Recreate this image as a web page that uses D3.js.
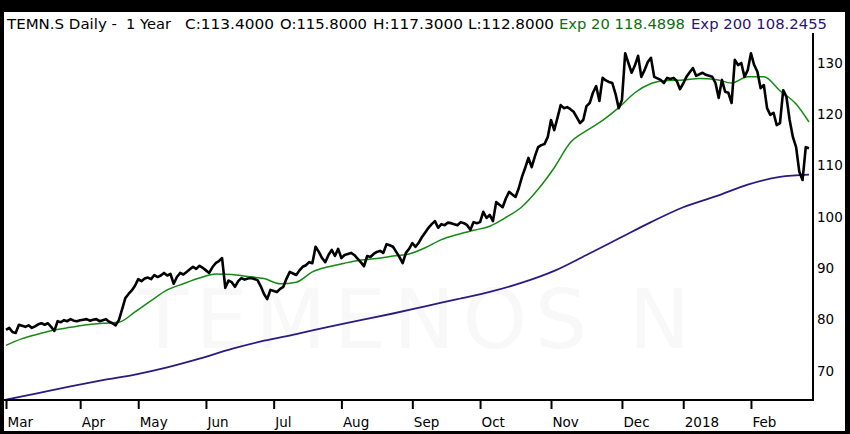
<!DOCTYPE html>
<html>
<head>
<meta charset="utf-8">
<script src="https://cdn.jsdelivr.net/npm/d3@7"></script>
<style>
  body { margin: 0; background: #fff; }
  text { font-family: "DejaVu Sans", "Liberation Sans", sans-serif; }
</style>
</head>
<body>
<div id="chart"></div>
<script>
// ---------------------------------------------------------------
// Data
// ---------------------------------------------------------------

// exchange closed on these weekdays
var firstDay = "2017-03-01";
var holidays = ["2017-04-14", "2017-04-17", "2017-05-01", "2017-05-25", "2017-06-05",
                "2017-08-01", "2017-12-25", "2017-12-26", "2018-01-01", "2018-01-02"];

// daily closes, month by month
var closeMar = [78.0, 78.4, 77.6, 77.4, 79.0, 78.8, 78.6, 78.9, 78.4, 78.7, 79.1, 79.3, 79.0, 79.3, 78.6, 77.8, 79.7, 79.5, 79.9, 79.7, 80.1, 79.8, 79.7];
var closeApr = [79.9, 80.0, 80.1, 79.8, 80.0, 80.1, 79.7, 79.9, 80.1, 79.6, 79.3, 78.9, 79.9, 82.0, 84.2, 85.0, 85.7, 86.6];
var closeMay = [87.9, 87.5, 88.0, 88.2, 87.9, 88.7, 88.3, 88.6, 89.1, 88.6, 88.9, 87.0, 88.3, 89.1, 88.8, 89.3, 89.8, 90.3, 89.9, 90.5, 90.1];
var closeJun = [89.6, 89.1, 90.2, 91.0, 91.4, 92.0, 86.2, 87.6, 87.3, 86.4, 87.5, 88.1, 87.8, 88.0, 88.1, 87.9, 87.7, 86.5, 85.0, 84.0, 85.8];
var closeJul = [85.6, 85.4, 86.0, 86.4, 88.0, 89.3, 89.0, 88.7, 89.6, 90.3, 90.6, 91.2, 91.0, 94.2, 93.2, 92.0, 91.2, 92.6, 93.6, 92.4, 93.8];
var closeAug = [92.0, 92.6, 92.8, 93.0, 92.6, 91.9, 91.2, 90.4, 92.4, 92.2, 92.8, 93.2, 93.4, 93.0, 94.7, 94.5, 94.2, 93.2, 92.2, 91.0, 93.0, 93.8];
var closeSep = [94.9, 94.2, 95.0, 96.1, 97.0, 97.9, 98.6, 99.2, 97.9, 98.6, 98.4, 98.9, 98.8, 98.6, 98.4, 99.0, 98.8, 98.4, 97.5, 99.0, 98.8];
var closeOct = [99.0, 101.0, 99.8, 100.4, 99.2, 102.9, 102.4, 101.9, 103.6, 104.9, 104.4, 103.9, 105.6, 107.8, 109.6, 111.5, 109.7, 111.8, 113.6, 114.0, 114.2, 115.6];
var closeNov = [118.9, 116.9, 119.3, 121.8, 121.2, 121.4, 121.0, 120.5, 119.4, 118.3, 118.9, 121.6, 122.2, 124.2, 125.5, 122.6, 127.1, 126.6, 126.3, 126.1, 124.0, 121.2];
var closeDec = [122.8, 131.9, 130.0, 128.1, 129.5, 131.4, 127.3, 128.6, 130.2, 131.0, 127.3, 127.0, 126.7, 126.1, 127.1, 126.9, 127.1, 126.5, 124.9];
var closeJan = [126.0, 127.3, 128.2, 129.0, 127.5, 127.8, 128.1, 127.7, 127.5, 127.3, 126.1, 123.2, 126.7, 124.4, 124.2, 122.2, 130.6, 129.6, 130.0, 127.3, 128.6];
var closeFeb = [131.9, 129.6, 128.3, 125.1, 125.7, 121.2, 119.9, 120.3, 117.9, 118.3, 124.7, 123.4, 118.9, 115.6, 113.6, 108.8, 107.2, 113.6, 113.4];

var closes = [].concat(closeMar, closeApr, closeMay, closeJun, closeJul, closeAug,
                       closeSep, closeOct, closeNov, closeDec, closeJan, closeFeb);

// exponential averages, read at some trading days (day = index in closes)
var ema20Days = [0, 5, 10, 15, 20, 25, 30, 35, 40, 45, 50, 55, 60, 65, 70, 75, 80, 85, 90, 95,
                 100, 105, 110, 115, 120, 125, 130, 135, 140, 145, 150, 155, 160, 165, 170, 175,
                 180, 185, 190, 195, 200, 205, 210, 215, 220, 225, 230, 235, 240, 245, 249];
var ema20Vals = [75.0, 76.3, 77.2, 78.0, 78.5, 79.0, 79.3, 79.5, 81.5, 83.7, 85.8, 87.0, 88.1, 88.9, 88.8, 88.4, 88.0, 87.0, 87.3, 89.3,
                 90.3, 91.0, 91.6, 91.9, 92.4, 92.8, 94.0, 95.6, 96.6, 97.4, 98.2, 99.9, 102.0, 105.4, 109.6, 114.5,
                 116.8, 118.8, 121.3, 124.2, 126.0, 126.6, 126.7, 127.0, 126.8, 126.1, 127.3, 127.3, 124.6, 122.0, 118.5];

var ema200Days = [0, 10, 20, 30, 40, 50, 60, 70, 80, 90, 100, 110, 120, 130, 140, 150, 160, 170,
                  180, 190, 200, 210, 220, 230, 240, 249];
var ema200Vals = [64.4, 65.7, 67.0, 68.2, 69.3, 70.7, 72.4, 74.3, 75.9, 77.2, 78.6, 79.9, 81.2, 82.6, 84.0, 85.4, 87.2, 89.5,
                  92.6, 95.8, 99.0, 101.9, 104.0, 106.3, 107.8, 108.25];

// axis labels
var monthLabels = ["Mar", "Apr", "May", "Jun", "Jul", "Aug", "Sep", "Oct", "Nov", "Dec", "2018", "Feb"];
var priceTicks = [70, 80, 90, 100, 110, 120, 130];

// header line
var headerTexts = ["TEMN.S Daily -", "1 Year", "C:113.4000", "O:115.8000", "H:117.3000", "L:112.8000",
                   "Exp 20 118.4898", "Exp 200 108.2455"];

// ---------------------------------------------------------------
// Layout
// ---------------------------------------------------------------
var width = 850, height = 434;
var plot = { left: 4, right: 813, top: 33, bottom: 400 };

var colPrice = "#000000", colEma20 = "#138a13", colEma200 = "#2c1a80";
var headerX   = [7, 126, 185, 280, 373, 468, 559, 691];
var headerLen = [110, 45, 89, 87, 90, 86, 126, 136];
var headerCol = ["#000", "#000", "#000", "#000", "#000", "#000", "#0f6e0f", "#2a1470"];

// trading days from the weekday calendar
var parseDay = d3.timeParse("%Y-%m-%d");
var fmtDay = d3.timeFormat("%Y-%m-%d");
var tradingDays = [];
var day = parseDay(firstDay);
while (tradingDays.length < closes.length) {
    var wd = day.getDay();
    if (wd !== 0 && wd !== 6 && holidays.indexOf(fmtDay(day)) < 0) tradingDays.push(day);
    day = d3.timeDay.offset(day, 1);
}
var monthStarts = [];
tradingDays.forEach(function (d, i) {
    if (i === 0 || d.getMonth() !== tradingDays[i - 1].getMonth()) monthStarts.push(i);
});

var svg = d3.select("#chart").append("svg")
    .attr("width", width)
    .attr("height", height);

svg.append("rect").attr("width", width).attr("height", height).attr("fill", "#fff");

// scales
var x = d3.scaleLinear().domain([0, closes.length - 1]).range([6, 809]);
var y = d3.scaleLinear().domain([64.35, 135.84]).range([plot.bottom, plot.top]);

svg.append("clipPath").attr("id", "clip")
    .append("rect")
    .attr("x", plot.left).attr("y", plot.top)
    .attr("width", plot.right - plot.left).attr("height", plot.bottom - plot.top);

// watermark
svg.append("text")
    .attr("x", 138).attr("y", 348)
    .attr("textLength", 552).attr("lengthAdjust", "spacing")
    .attr("font-size", 82)
    .attr("fill", "#f8f8f8")
    .text("TEMENOS N");

var lines = svg.append("g").attr("clip-path", "url(#clip)");

var smooth = d3.line()
    .x(function (d) { return x(d[0]); })
    .y(function (d) { return y(d[1]); })
    .curve(d3.curveMonotoneX);

lines.append("path")
    .datum(d3.zip(ema200Days, ema200Vals))
    .attr("d", smooth)
    .attr("fill", "none")
    .attr("stroke", colEma200)
    .attr("stroke-width", 1.8);

lines.append("path")
    .datum(d3.zip(ema20Days, ema20Vals))
    .attr("d", smooth)
    .attr("fill", "none")
    .attr("stroke", colEma20)
    .attr("stroke-width", 1.5);

var priceLine = d3.line()
    .x(function (d, i) { return x(i); })
    .y(function (d) { return y(d); });

lines.append("path")
    .datum(closes)
    .attr("d", priceLine)
    .attr("fill", "none")
    .attr("stroke", colPrice)
    .attr("stroke-width", 2.6)
    .attr("stroke-linejoin", "round");

// bottom axis: month ticks
var bottomAxis = d3.axisBottom(x)
    .tickValues(monthStarts)
    .tickSize(9)
    .tickSizeOuter(0)
    .tickFormat(function (d, i) { return monthLabels[i]; });

var gx = svg.append("g")
    .attr("transform", "translate(0," + plot.bottom + ")")
    .call(bottomAxis);
gx.select(".domain").remove();
gx.selectAll(".tick line").attr("stroke", "#000").attr("stroke-width", 2);
gx.selectAll(".tick text")
    .attr("text-anchor", "start")
    .attr("x", 1)
    .attr("y", 17)
    .attr("font-size", 13.5)
    .attr("font-family", "DejaVu Sans")
    .attr("fill", "#000");

// right axis: price labels
var rightAxis = d3.axisRight(y)
    .tickValues(priceTicks)
    .tickSize(0)
    .tickPadding(4);

var gy = svg.append("g")
    .attr("transform", "translate(" + plot.right + ",0)")
    .call(rightAxis);
gy.select(".domain").remove();
gy.selectAll(".tick text")
    .attr("font-size", 13.5)
    .attr("font-family", "DejaVu Sans")
    .attr("fill", "#000");

// plot frame
svg.append("line")
    .attr("x1", plot.left).attr("x2", plot.right + 1)
    .attr("y1", plot.bottom).attr("y2", plot.bottom)
    .attr("stroke", "#000").attr("stroke-width", 2);
svg.append("line")
    .attr("x1", plot.right).attr("x2", plot.right)
    .attr("y1", plot.top).attr("y2", plot.bottom)
    .attr("stroke", "#000").attr("stroke-width", 2);

// outer black border
svg.append("rect").attr("x", 0).attr("y", 0).attr("width", width).attr("height", 12).attr("fill", "#000");
svg.append("rect").attr("x", 0).attr("y", 0).attr("width", 4).attr("height", height).attr("fill", "#000");
svg.append("rect").attr("x", 845).attr("y", 0).attr("width", 5).attr("height", height).attr("fill", "#000");
svg.append("rect").attr("x", 0).attr("y", 431).attr("width", width).attr("height", 3).attr("fill", "#000");

// header
svg.append("g").selectAll("text")
    .data(headerTexts)
    .enter()
    .append("text")
    .attr("x", function (d, i) { return headerX[i]; })
    .attr("y", 29)
    .attr("textLength", function (d, i) { return headerLen[i]; })
    .attr("lengthAdjust", "spacingAndGlyphs")
    .attr("font-size", 13.5)
    .attr("fill", function (d, i) { return headerCol[i]; })
    .text(function (d) { return d; });
</script>
</body>
</html>
